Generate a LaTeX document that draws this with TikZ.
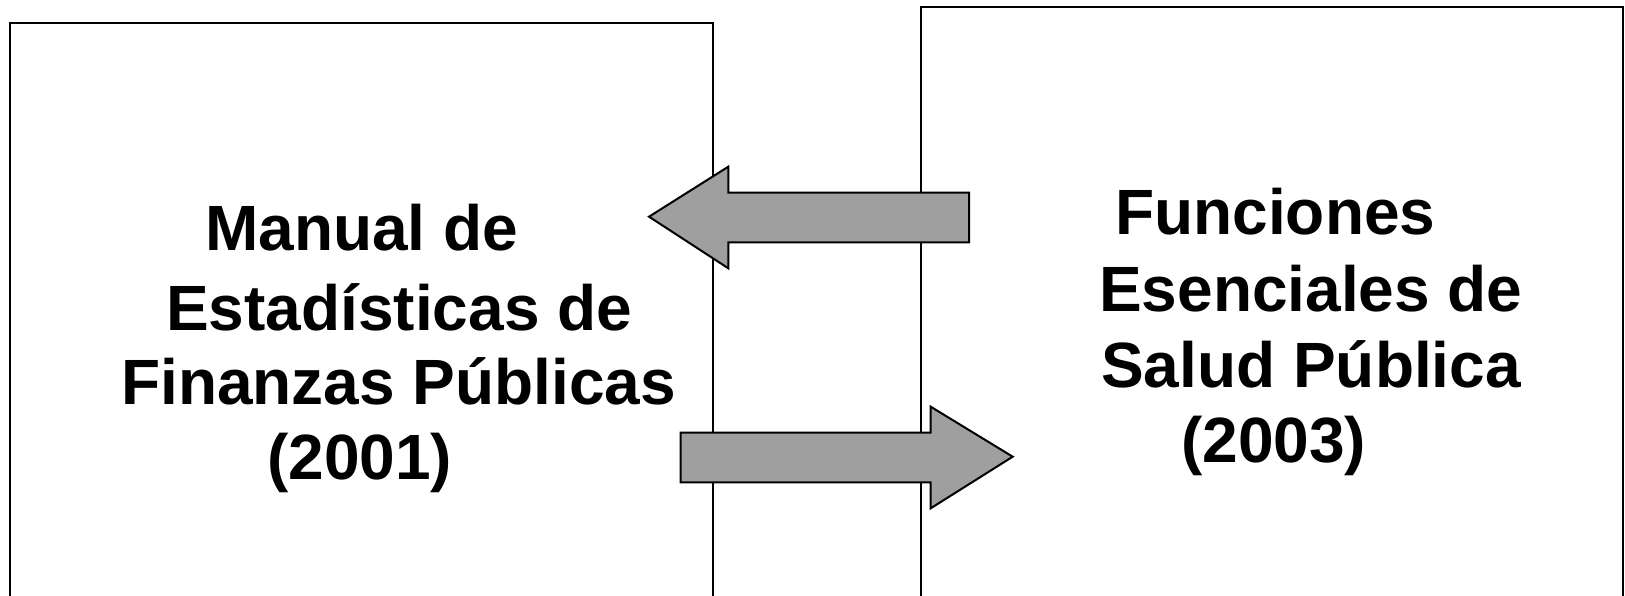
\documentclass[tikz,border=0pt]{standalone}
\usepackage{fontspec}
\setmainfont{Liberation Sans}
\definecolor{arrowgray}{RGB}{159,159,159}
\tikzset{
  panel/.style={draw=black, line width=2pt},
  bigarrow/.style={draw=black, line width=2pt, fill=arrowgray, line join=miter},
  label/.style={anchor=base west, inner sep=0pt, font=\fontsize{64}{77}\selectfont\bfseries}
}
\begin{document}
\begin{tikzpicture}[x=1pt,y=-1pt]
\useasboundingbox (0,0) rectangle (1625,596);
\clip (0,0) rectangle (1625,596);
\fill[white] (0,0) rectangle (1625,596);
% panels
\draw[panel] (9.5,610) -- (9.5,23) -- (713,23) -- (713,610);
\draw[panel] (921,610) -- (921,7.5) -- (1623,7.5) -- (1623,610);
% arrows
\draw[bigarrow] (649,216.7) -- (728.3,166.7) -- (728.3,192.7) -- (969,192.7)
  -- (969,242.3) -- (728.3,242.3) -- (728.3,268.3) -- cycle;
\draw[bigarrow] (680.7,432.7) -- (930.7,432.7) -- (930.7,406.7) -- (1012.7,456.7)
  -- (930.7,508.3) -- (930.7,482.3) -- (680.7,482.3) -- cycle;
% left text
\node[label] (l1) at (205,251) {Manual de};
\node[label] (l2) at (166,330) {Estadísticas de};
\node[label] (l3) at (121,404) {Finanzas Públicas};
\node[label] (l4) at (267,479) {(2001)};
% right text
\node[label] (r1) at (1115,234) {Funciones};
\node[label] (r2) at (1099,311) {Esenciales de};
\node[label] (r3) at (1101,387) {Salud Pública};
\node[label] (r4) at (1181,462) {(2003)};
\end{tikzpicture}
\end{document}
